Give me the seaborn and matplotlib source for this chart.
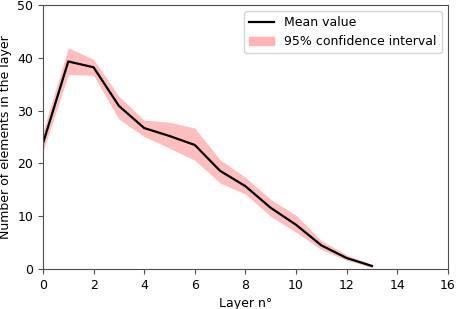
import numpy as np
import pandas as pd
import matplotlib
matplotlib.use("Agg")
import matplotlib.pyplot as plt
import seaborn as sns
from matplotlib.patches import Patch
from matplotlib.lines import Line2D

# data
layers = [0, 1, 2, 3, 4, 5, 6, 7, 8, 9, 10, 11, 12, 13]
mean_vals = [23.8, 39.3, 38.2, 30.9, 26.7, 25.2, 23.5, 18.6, 15.7, 11.6, 8.4, 4.5, 2.1, 0.6]
ci_low = [22.3, 36.8, 36.7, 28.4, 25.1, 22.9, 20.6, 16.3, 14.2, 10.0, 7.0, 3.7, 1.7, 0.3]
ci_high = [26.0, 41.9, 39.7, 32.7, 28.2, 27.8, 26.7, 20.7, 17.4, 13.2, 10.2, 5.4, 2.7, 0.9]

df = pd.DataFrame({"layer": layers, "mean": mean_vals, "low": ci_low, "high": ci_high})

plt.rcParams["font.family"] = ["DejaVu Sans"]
fig = plt.figure(figsize=(4.57, 3.09), dpi=100)
ax = fig.add_axes([0.094, 0.129, 0.886, 0.855])

ax.fill_between(df["layer"], df["low"], df["high"], color="#ffb3b3", alpha=0.85, lw=0)
sns.lineplot(data=df, x="layer", y="mean", color="black", lw=1.6, ax=ax)

ax.set_xlim(0, 16)
ax.set_ylim(0, 50)
ax.set_xticks(range(0, 17, 2))
ax.set_yticks(range(0, 51, 10))
ax.tick_params(labelsize=9, color="#505050")
for s in ax.spines.values():
    s.set_color("#505050")
ax.set_xlabel("Layer n°", fontsize=9)
ax.set_ylabel("Number of elements in the layer", fontsize=9)

handles = [Line2D([0], [0], color="black", lw=1.6),
           Patch(facecolor="#ffb3b3", edgecolor="#ffb3b3")]
ax.legend(handles, ["Mean value", "95% confidence interval"], loc="upper right", fontsize=9)

fig.savefig("out.png", dpi=100)
